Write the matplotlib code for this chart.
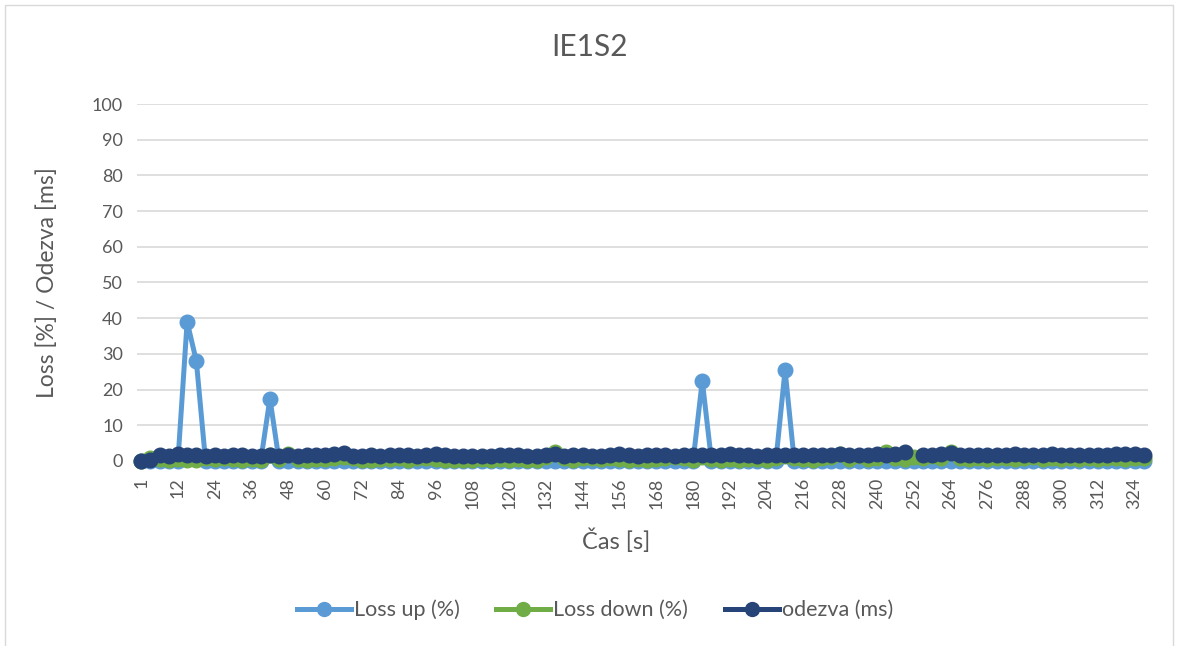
import numpy as np
import matplotlib
matplotlib.use("Agg")
import matplotlib.pyplot as plt
from matplotlib.lines import Line2D

plt.rcParams['font.family'] = ['Lato', 'DejaVu Sans']

# cas [s] - kategorie na ose x
cas = [1, 3, 6, 9, 12, 15, 18, 21, 24, 27, 30, 33, 36, 39, 42, 45, 48, 51, 54, 57,
       60, 63, 66, 69, 72, 75, 78, 81, 84, 87, 90, 93, 96, 99, 102, 105, 108, 111, 114, 117,
       120, 123, 126, 129, 132, 135, 138, 141, 144, 147, 150, 153, 156, 159, 162, 165, 168, 171, 174, 177,
       180, 183, 186, 189, 192, 195, 198, 201, 204, 207, 210, 213, 216, 219, 222, 225, 228, 231, 234, 237,
       240, 243, 246, 249, 252, 255, 258, 261, 264, 267, 270, 273, 276, 279, 282, 285, 288, 291, 294, 297,
       300, 303, 306, 309, 312, 315, 318, 321, 324, 327]

loss_up = [0, 0, 0, 0, 0, 39, 28, 0, 0, 0, 0, 0, 0, 0, 17.5, 0, 0, 0, 0, 0,
           0, 0, 0, 0, 0, 0, 0, 0, 0, 0, 0, 0, 0, 0, 0, 0, 0, 0, 0, 0,
           0, 0, 0, 0, 0, 0, 0, 0, 0, 0, 0, 0, 0, 0, 0, 0, 0, 0, 0, 0,
           0, 22.5, 0, 0, 0, 0, 0, 0, 0, 0, 25.5, 0, 0, 0, 0, 0, 0, 0, 0, 0,
           0, 0, 0, 0, 0, 0, 0, 0, 0, 0, 0, 0, 0, 0, 0, 0, 0, 0, 0, 0,
           0, 0, 0, 0, 0, 0, 0, 0, 0, 0]

loss_down = [0, 0.9, 0.5, 0.3, 0.6, 0.2, 0.4, 0.8, 0.5, 0.7, 0.6, 0.3, 0.5, 0.4, 1.8, 0.5, 1.9, 0.6, 0.4, 0.5,
             0.6, 0.8, 1.2, 0.9, 0.3, 0.2, 0.6, 0.5, 0.8, 0.4, 0.9, 0.7, 0.5, 0.3, 0.4, 0.3, 0.2, 0.5, 0.4, 0.6,
             0.3, 0.5, 0.2, 0.4, 1.1, 2.4, 0.7, 0.3, 0.8, 0.9, 0.5, 0.7, 0.6, 0.4, 0.5, 0.3, 0.6, 0.8, 1.2, 0.7,
             0.4, 1.0, 0.5, 0.3, 0.6, 0.4, 0.5, 0.6, 0.3, 0.8, 1.5, 0.9, 0.6, 0.4, 0.8, 1.0, 2.0, 0.5, 1.3, 0.6,
             0.9, 2.6, 0.7, 0.6, 1.0, 0.8, 1.5, 0.7, 2.4, 0.9, 0.6, 0.8, 0.5, 0.9, 0.7, 0.6, 0.8, 1.0, 0.6, 0.7,
             0.5, 0.8, 0.6, 0.9, 0.5, 0.7, 0.8, 0.6, 0.9, 0.7]

odezva = [0, 0.2, 1.6, 1.5, 1.9, 1.7, 1.6, 1.5, 1.6, 1.5, 1.7, 1.6, 1.5, 1.4, 1.6, 1.5, 1.7, 1.5, 1.6, 1.8,
          1.7, 2.0, 2.3, 1.5, 1.4, 1.6, 1.5, 1.7, 1.6, 1.8, 1.5, 1.6, 1.9, 1.7, 1.5, 1.4, 1.3, 1.5, 1.4, 1.6,
          1.8, 1.7, 1.5, 1.4, 1.6, 1.9, 1.5, 1.6, 1.8, 1.5, 1.4, 1.6, 2.0, 1.7, 1.5, 1.6, 1.8, 1.7, 1.5, 1.6,
          1.7, 1.8, 1.6, 1.7, 1.9, 1.6, 1.7, 1.5, 1.6, 1.7, 1.8, 1.7, 1.8, 1.6, 1.7, 1.8, 1.9, 1.7, 1.6, 1.8,
          1.9, 1.8, 2.0, 2.4, np.nan, 1.6, 1.7, 1.9, 2.2, 1.8, 1.7, 1.6, 1.8, 1.6, 1.7, 1.9, 1.7, 1.6, 1.8, 1.9,
          1.7, 1.8, 1.6, 1.7, 1.8, 1.7, 1.9, 2.0, 1.9, 1.6]

serie = [('Loss up (%)', loss_up, '#5B9BD5'),
         ('Loss down (%)', loss_down, '#70AD47'),
         ('odezva (ms)', odezva, '#264478')]

seda = '#595959'

fig = plt.figure(figsize=(11.78, 6.46), dpi=100)
ax = fig.add_axes([0.1163, 0.2864, 0.8582, 0.5526])

idx = np.arange(len(cas))
for nazev, hodnoty, barva in serie:
    ax.plot(idx, hodnoty, color=barva, lw=3.6, marker='o', ms=10.5,
            solid_capstyle='round', clip_on=False, zorder=3)

ax.set_xlim(-0.45, len(cas) - 0.55)
ax.set_ylim(0, 100)
ax.set_yticks(np.arange(0, 101, 10))
ax.yaxis.grid(True, color='#D9D9D9', lw=1.2)
ax.set_axisbelow(True)
for s in ['top', 'right', 'left']:
    ax.spines[s].set_visible(False)
ax.spines['bottom'].set_color('#D9D9D9')
ax.tick_params(axis='y', length=0, pad=10, labelsize=13, labelcolor=seda)
ax.set_xticks(idx[::4])
ax.set_xticklabels([str(c) for c in cas[::4]], rotation=90)
ax.tick_params(axis='x', length=0, pad=12, labelsize=13, labelcolor=seda)

ax.set_ylabel('Loss [%] / Odezva [ms]', fontsize=16.5, color=seda)
ax.yaxis.set_label_coords(-0.078, 0.5)
ax.set_xlabel('Čas [s]', fontsize=17, color=seda)
ax.xaxis.set_label_coords(0.474, -0.19)
fig.text(0.5, 0.927, 'IE1S2', ha='center', va='center', fontsize=21.5, color=seda)

handles = [Line2D([0], [0], color=b, lw=3.6, marker='o', ms=10) for _, _, b in serie]
fig.legend(handles, [n for n, _, _ in serie], loc='center', bbox_to_anchor=(0.505, 0.056),
           ncol=3, frameon=False, fontsize=15.5, handlelength=2.5, handletextpad=0.15,
           columnspacing=1.7, labelcolor=seda)

# ramecek grafu
fig.add_artist(Line2D([0.004, 0.004, 0.996, 0.996], [0.0, 0.992, 0.992, 0.0],
                      transform=fig.transFigure, color='#D9D9D9', lw=1))

fig.savefig('out.png', dpi=100)
